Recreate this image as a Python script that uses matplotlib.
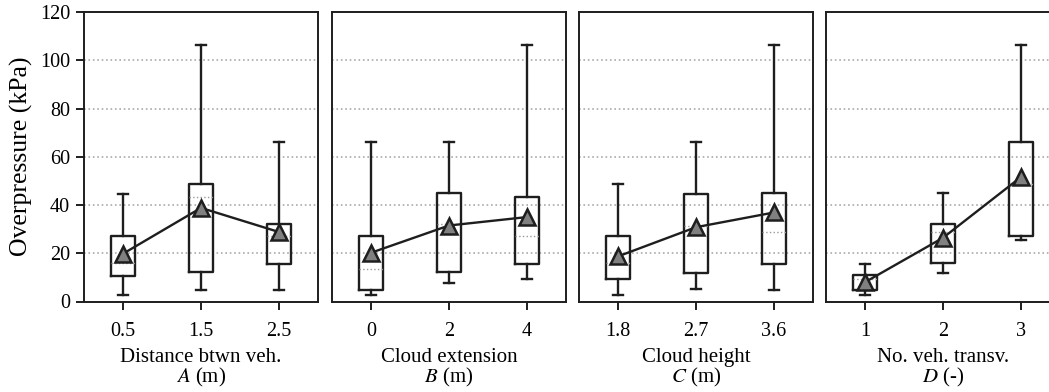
import matplotlib
matplotlib.use("Agg")
import matplotlib.pyplot as plt

plt.rcParams["font.family"] = ["Liberation Serif", "DejaVu Serif"]
plt.rcParams["mathtext.fontset"] = "stix"

# one entry per panel: factor levels and box statistics (kPa)
factor_names = ["Distance btwn veh.\n$A$ (m)", "Cloud extension\n$B$ (m)",
                "Cloud height\n$C$ (m)", "No. veh. transv.\n$D$ (-)"]
levels = [["0.5", "1.5", "2.5"], ["0", "2", "4"], ["1.8", "2.7", "3.6"], ["1", "2", "3"]]

whis_lo = [[2.5, 4.6, 4.9], [2.5, 7.6, 9.4], [2.5, 5.0, 4.6], [2.5, 11.9, 25.3]]
q1 = [[10.7, 12.2, 15.4], [4.9, 12.2, 15.4], [9.4, 11.9, 15.4], [4.9, 15.9, 27.0]]
median = [[15.9, 43.3, 27.0], [13.6, 32.2, 27.0], [15.9, 31.1, 28.8], [9.4, 28.8, 48.8]]
q3 = [[27.0, 48.5, 32.2], [27.0, 45.1, 43.3], [27.0, 44.7, 45.1], [10.8, 32.2, 66.1]]
whis_hi = [[44.7, 106.5, 66.1], [66.1, 66.1, 106.5], [48.5, 66.1, 106.5], [15.6, 45.1, 106.5]]
mean = [[19.8, 38.8, 28.8], [20.2, 31.5, 35.0], [18.7, 30.8, 36.9], [8.0, 26.4, 51.6]]

W, H = 1049, 392
fig = plt.figure(figsize=(W / 100, H / 100), dpi=100)
lefts = [84, 332, 579, 826]
ink = "#1e1e1e"

for i, left in enumerate(lefts):
    ax = fig.add_axes([left / W, 90.5 / H, 234 / W, 289.5 / H])
    stats = [dict(whislo=whis_lo[i][j], q1=q1[i][j], med=median[i][j], q3=q3[i][j],
                  whishi=whis_hi[i][j], mean=mean[i][j], fliers=[])
             for j in range(3)]
    pos = list(range(3))
    ax.bxp(stats, positions=pos, widths=0.3, showmeans=False, showfliers=False,
           boxprops=dict(color=ink, lw=1.7),
           whiskerprops=dict(color=ink, lw=1.7),
           capprops=dict(color=ink, lw=1.7),
           capwidths=0.14,
           medianprops=dict(color="#999999", lw=1.0, ls=":"),
           zorder=3)
    ax.plot(pos, mean[i], color=ink, lw=1.7, marker="^", ms=11.5,
            mfc="#808080", mec=ink, mew=1.8, zorder=4)

    ax.set_xlim(-0.5, 2.5)
    ax.set_ylim(0, 120)
    ax.set_yticks(range(0, 121, 20))
    ax.set_xticks(pos)
    ax.set_xticklabels(levels[i])
    ax.set_xlabel(factor_names[i], fontsize=15, linespacing=0.95, labelpad=5)
    ax.yaxis.grid(True, ls=":", color="#aaaaaa", lw=1.2)
    ax.set_axisbelow(True)
    for s in ax.spines.values():
        s.set_color(ink)
        s.set_linewidth(1.4)
    ax.tick_params(axis="both", direction="out", length=6, width=1.4,
                   color=ink, labelsize=14.5)
    ax.tick_params(axis="x", pad=9)
    ax.tick_params(axis="y", pad=4)
    if i == 0:
        ax.set_ylabel("Overpressure (kPa)", fontsize=18.5, labelpad=5)
    else:
        ax.tick_params(axis="y", left=False, labelleft=False)

fig.savefig("out.png", dpi=100)
